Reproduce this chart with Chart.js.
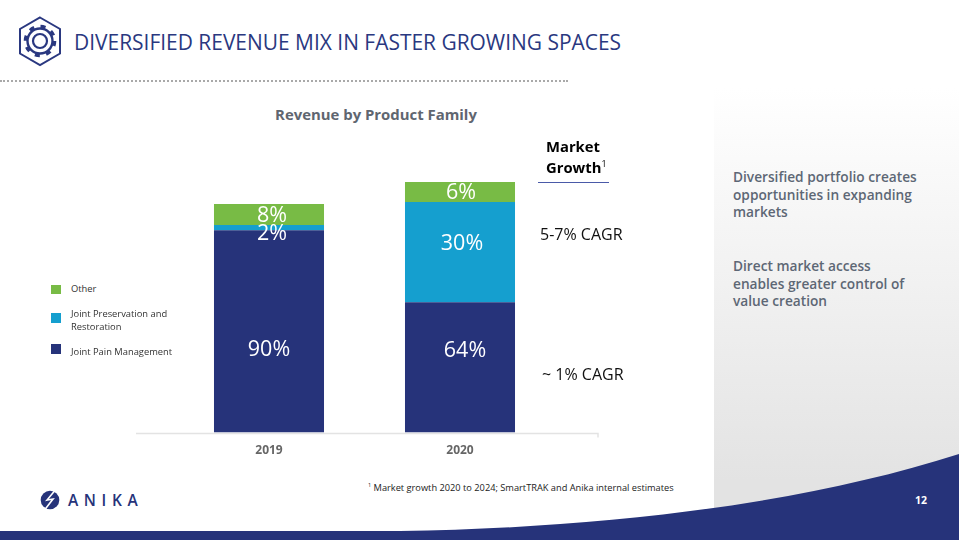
<!DOCTYPE html>
<html>
<head>
<meta charset="utf-8">
<title>Revenue by Product Family</title>
<script src="https://cdn.jsdelivr.net/npm/chart.js@4"></script>
<style>
    html, body { margin: 0; padding: 0; background: #fff; }
    body { width: 959px; height: 540px; position: relative; overflow: hidden; font-family: "Open Sans", sans-serif; }
    .abs { position: absolute; white-space: nowrap; }
    #panel { position: absolute; left: 714px; top: 88px; width: 245px; height: 445px; background: linear-gradient(#fff 0%, #e3e3e3 88%); }
    #deco { position: absolute; left: 0; top: 0; }
    #chart-box { position: absolute; left: 100px; top: 99px; width: 552px; height: 370px; }
    #heading { left: 74px; top: 27px; font-size: 20.95px; line-height: 30px; color: #2a3880; }
    #chart-title { left: 275px; top: 104px; width: 202px; text-align: center; font-size: 14.9px; line-height: 20px; font-weight: 700; color: #5f6670; }
    #dots { position: absolute; left: 0; top: 80px; width: 568px; border-top: 2px dotted #a9a9a9; }
    .side { left: 733px; font-size: 13.7px; line-height: 17.6px; font-weight: 600; color: #5d6775; }
    .growth { font-size: 16px; line-height: 20px; color: #111; }
    sup { font-size: 60%; line-height: 0; font-weight: 400; }
    .legend-item { position: absolute; left: 71px; font-size: 9.35px; line-height: 13px; color: #333; white-space: nowrap; }
    .legend-swatch { position: absolute; left: -20px; width: 9.5px; height: 9.5px; }
</style>
</head>
<body>
<div id="panel"></div>
<svg id="deco" width="959" height="540">
    <path d="M0 531 L400 531 C600 528 800 505 959 454 L959 540 L0 540 Z" fill="#26337a"/>
    <!-- gear icon -->
    <g fill="none" stroke="#2a3880">
        <path d="M40 17.5 L60 29 L60 53.5 L40 65 L20 53.5 L20 29 Z" stroke-width="2"/>
        <circle cx="40" cy="41" r="12.5" stroke-width="2.4"/>
        <circle cx="40" cy="41" r="7" stroke-width="2.2"/>
        <circle cx="40" cy="41" r="14.5" stroke-width="3.6" stroke-dasharray="5 6.4"/>
    </g>
    <!-- logo mark -->
    <circle cx="50" cy="500" r="9.3" fill="#26337a"/>
    <path d="M57 488 L47 500 L53 499 L43 512" fill="none" stroke="#fff" stroke-width="1.6"/>
</svg>
<div id="dots"></div>

<div class="abs" id="heading">DIVERSIFIED REVENUE MIX IN FASTER GROWING SPACES</div>
<div class="abs" id="chart-title">Revenue by Product Family</div>

<div id="chart-box"><canvas id="revenue-chart"></canvas></div>
<div id="legend"></div>

<div class="abs growth" style="left:546px;top:136px;font-weight:700;font-size:14.8px;line-height:21px;color:#000;">Market<br>Growth<sup>1</sup></div>
<div style="position:absolute;left:538px;top:182px;width:71px;height:1px;background:#4a5aa8;"></div>
<div class="abs growth" id="cagr-top" style="left:540px;top:224px;"></div>
<div class="abs growth" id="cagr-bottom" style="left:542px;top:364px;"></div>

<div class="abs side" style="top:168px;">Diversified portfolio creates<br>opportunities in expanding<br>markets</div>
<div class="abs side" style="top:257px;">Direct market access<br>enables greater control of<br>value creation</div>

<div class="abs" style="left:368px;top:481px;font-size:9.25px;line-height:14px;color:#222;"><sup>1</sup> Market growth 2020 to 2024; SmartTRAK and Anika internal estimates</div>
<div class="abs" style="left:68px;top:490px;font-size:15.5px;line-height:20px;font-weight:600;letter-spacing:5.6px;color:#26337a;">ANIKA</div>
<div class="abs" style="left:915px;top:493px;font-size:10.5px;line-height:14px;font-weight:700;color:#fff;">12</div>

<script>
// Bar segment heights (the slide's bars are not drawn to their % labels)
const years = ["2019", "2020"];
const painHeights = [202, 130];
const preservationHeights = [5, 100];
const otherHeights = [21, 20];

// Printed labels on each segment
const painLabels = ["90%", "64%"];
const preservationLabels = ["2%", "30%"];
const otherLabels = ["8%", "6%"];

const seriesNames = ["Other", "Joint Preservation and Restoration", "Joint Pain Management"];
const cagrLabels = ["5-7% CAGR", "~ 1% CAGR"];

const NAVY = "#26337a";
const BLUE = "#159fcf";
const GREEN = "#78bb45";

document.getElementById("cagr-top").textContent = cagrLabels[0];
document.getElementById("cagr-bottom").textContent = cagrLabels[1];

// Legend is built by hand because it sits left of the plot and wraps
const legendBox = document.getElementById("legend");
const legendTops = [281.5, 306.5, 344.5];
const swatchTops = [3, 6.5, -0.5];
const legendColors = [GREEN, BLUE, NAVY];
seriesNames.forEach((name, i) => {
    const item = document.createElement("div");
    item.className = "legend-item";
    item.style.top = legendTops[i] + "px";
    item.innerHTML = name === "Joint Preservation and Restoration"
        ? "Joint Preservation and<br>Restoration"
        : name;
    const swatch = document.createElement("span");
    swatch.className = "legend-swatch";
    swatch.style.background = legendColors[i];
    swatch.style.top = swatchTops[i] + "px";
    item.appendChild(swatch);
    legendBox.appendChild(item);
});

// Write the % text on each bar segment
const segmentLabels = {
    id: "segmentLabels",
    afterDatasetsDraw(chart) {
        const ctx = chart.ctx;
        ctx.save();
        ctx.fillStyle = "#fff";
        ctx.font = '21.5px "Open Sans"';
        ctx.textAlign = "center";
        ctx.textBaseline = "middle";
        chart.data.datasets.forEach((ds, d) => {
            chart.getDatasetMeta(d).data.forEach((bar, i) => {
                const off = ds.labelOffsets[i];
                ctx.fillText(ds.labelTexts[i], bar.x + off[0], (bar.y + bar.base) / 2 + off[1]);
            });
        });
        ctx.restore();
    }
};

// Baseline runs wider than the category band on the slide
const baseline = {
    id: "baseline",
    beforeDatasetsDraw(chart) {
        const ctx = chart.ctx;
        const y = chart.scales.y.getPixelForValue(0) + 1;
        const left = chart.chartArea.left - 37.5;
        const right = chart.chartArea.right + 42.5;
        ctx.save();
        ctx.strokeStyle = "#e3e3e3";
        ctx.lineWidth = 1.5;
        ctx.beginPath();
        ctx.moveTo(left, y);
        ctx.lineTo(right, y);
        ctx.lineTo(right, y + 4);
        ctx.stroke();
        ctx.restore();
    }
};

new Chart(document.getElementById("revenue-chart"), {
    type: "bar",
    data: {
        labels: years,
        datasets: [
            { label: seriesNames[2], data: painHeights, backgroundColor: NAVY, labelTexts: painLabels, labelOffsets: [[0, 19], [5, -17]] },
            { label: seriesNames[1], data: preservationHeights, backgroundColor: BLUE, labelTexts: preservationLabels, labelOffsets: [[3, 6], [2, -8]] },
            { label: seriesNames[0], data: otherHeights, backgroundColor: GREEN, labelTexts: otherLabels, labelOffsets: [[3, 1], [1, 1]] }
        ]
    },
    options: {
        responsive: true,
        maintainAspectRatio: false,
        animation: false,
        layout: { padding: { left: 73.5, right: 96.5, top: 73, bottom: 0 } },
        datasets: { bar: { categoryPercentage: 1, barPercentage: 0.576 } },
        plugins: {
            legend: { display: false },
            tooltip: { enabled: false }
        },
        scales: {
            x: {
                stacked: true,
                border: { display: false },
                grid: { display: false, drawTicks: false },
                ticks: { color: "#666", padding: 11, font: { family: '"Open Sans"', size: 12, weight: "bold" } }
            },
            y: { stacked: true, display: false, min: 0, max: 260 }
        }
    },
    plugins: [baseline, segmentLabels]
});
</script>
</body>
</html>
